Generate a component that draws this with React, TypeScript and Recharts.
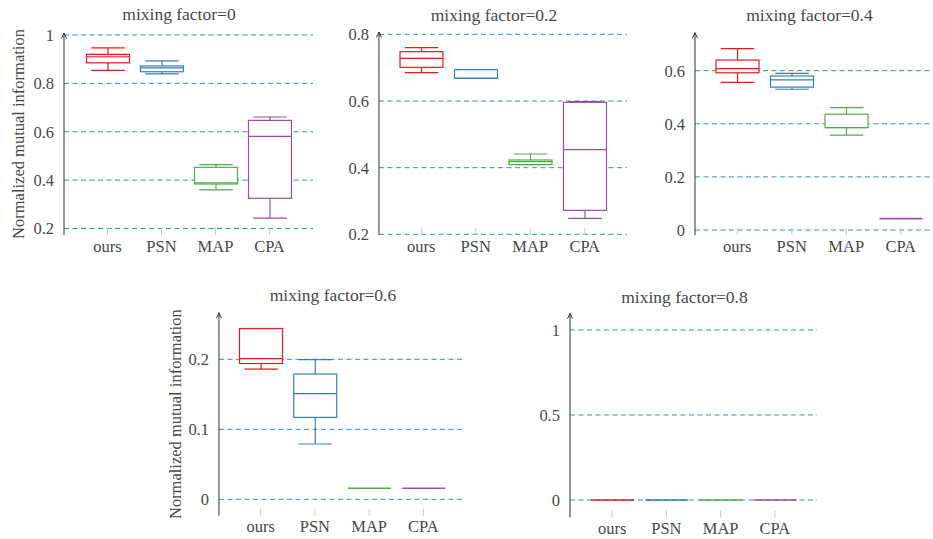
import React from 'react';
import { ComposedChart, Bar, XAxis, YAxis, CartesianGrid } from 'recharts';

const FONT = '"Liberation Serif", "DejaVu Serif", serif';
const TEXT = '#484848';
const GRID = '#2b9a9a';

const methods = ['ours', 'PSN', 'MAP', 'CPA'];
const methodColors = ['#e41a1c', '#377eb8', '#4daf4a', '#984ea3'];

// five-number summaries per method: [min, q1, median, q3, max]
const stats00 = [
  [0.854, 0.885, 0.91, 0.92, 0.947],
  [0.839, 0.848, 0.864, 0.872, 0.893],
  [0.36, 0.384, 0.389, 0.453, 0.464],
  [0.243, 0.325, 0.581, 0.647, 0.661],
];
const stats02 = [
  [0.685, 0.701, 0.728, 0.748, 0.76],
  [0.668, 0.668, 0.668, 0.694, 0.694],
  [0.409, 0.409, 0.418, 0.423, 0.441],
  [0.248, 0.272, 0.454, 0.596, 0.598],
];
const stats04 = [
  [0.556, 0.592, 0.608, 0.64, 0.683],
  [0.53, 0.538, 0.565, 0.58, 0.59],
  [0.357, 0.385, 0.386, 0.436, 0.461],
  [0.043, 0.043, 0.043, 0.043, 0.043],
];
const stats06 = [
  [0.186, 0.194, 0.201, 0.244, 0.244],
  [0.079, 0.117, 0.151, 0.179, 0.1995],
  [0.0157, 0.0157, 0.0157, 0.0157, 0.0157],
  [0.0157, 0.0157, 0.0157, 0.0157, 0.0157],
];
const stats08 = [
  [0, 0, 0, 0, 0],
  [0, 0, 0, 0, 0],
  [0, 0, 0, 0, 0],
  [0, 0, 0, 0, 0],
];

const ticks00 = [0.2, 0.4, 0.6, 0.8, 1];
const ticks02 = [0.2, 0.4, 0.6, 0.8];
const ticks04 = [0, 0.2, 0.4, 0.6];
const ticks06 = [0, 0.1, 0.2];
const ticks08 = [0, 0.5, 1];

const Y_LABEL = 'Normalized mutual information';

const buildRows = (stats: number[][]) =>
  methods.map((name, i) => ({
    name,
    range: [stats[i][0], stats[i][4]],
    stats: stats[i],
    color: methodColors[i],
  }));

const BoxShape = (props: any) => {
  const { x, y, width, height, payload } = props;
  const [lo, q1, med, q3, hi] = payload.stats;
  const color = payload.color;
  const span = hi - lo;
  if (span === 0 || !height) {
    return <line x1={x} x2={x + width} y1={y} y2={y} stroke={color} strokeWidth={1.6} />;
  }
  const py = (v: number) => y + (height * (hi - v)) / span;
  const cx = x + width / 2;
  const cap = width * 0.39;
  return (
    <g>
      <line x1={cx} x2={cx} y1={py(hi)} y2={py(q3)} stroke={color} strokeWidth={1.2} />
      <line x1={cx} x2={cx} y1={py(q1)} y2={py(lo)} stroke={color} strokeWidth={1.2} />
      <line x1={cx - cap} x2={cx + cap} y1={py(hi)} y2={py(hi)} stroke={color} strokeWidth={1.2} />
      <line x1={cx - cap} x2={cx + cap} y1={py(lo)} y2={py(lo)} stroke={color} strokeWidth={1.2} />
      <rect x={x} y={py(q3)} width={width} height={Math.max(py(q1) - py(q3), 0.5)} fill="#fff" stroke={color} strokeWidth={1.2} />
      <line x1={x} x2={x + width} y1={py(med)} y2={py(med)} stroke={color} strokeWidth={1.2} />
    </g>
  );
};

const CatTick = (props: any) => {
  const { x, y, payload } = props;
  return (
    <g>
      <line x1={x} x2={x} y1={y - 12} y2={y - 5} stroke="#c8c8c8" />
      <text x={x} y={y} dy="0.71em" textAnchor="middle" fontSize={16.5} fill={TEXT} fontFamily={FONT}>
        {payload.value}
      </text>
    </g>
  );
};

type PanelProps = {
  title: string;
  stats: number[][];
  ticks: number[];
  domain: [number, number];
  left: number;
  top: number;
  axisW: number;
  plotTop: number;
  plotH: number;
  plotW: number;
  pad: number;
  titleX: number;
  titleY: number;
  yLabelX?: number;
};

const Panel = (p: PanelProps) => {
  const rows = buildRows(p.stats);
  // grid only at the tick values (no lines at the domain edges)
  const gridAt = ({ yAxis, offset }: any) => {
    const sc = yAxis && yAxis.scale;
    if (typeof sc === 'function') return p.ticks.map((t) => sc(t));
    if (sc && typeof sc.map === 'function') return p.ticks.map((t) => sc.map(t));
    const [d0, d1] = p.domain;
    return p.ticks.map((t) => offset.top + (offset.height * (d1 - t)) / (d1 - d0));
  };
  return (
    <>
      <div
        style={{
          position: 'absolute',
          left: p.titleX - 120,
          top: p.titleY - 10,
          width: 240,
          textAlign: 'center',
          fontSize: 17.5,
          lineHeight: '20px',
          color: TEXT,
          fontFamily: FONT,
        }}
      >
        {p.title}
      </div>
      <div style={{ position: 'absolute', left: p.left, top: p.top }}>
        <ComposedChart
          width={p.axisW + p.plotW}
          height={p.plotTop + p.plotH + 30}
          data={rows}
          margin={{ top: p.plotTop, right: 0, bottom: 0, left: 0 }}
        >
          <CartesianGrid
            horizontal
            vertical={false}
            stroke={GRID}
            strokeDasharray="5 3.5"
            horizontalCoordinatesGenerator={gridAt}
          />
          <XAxis
            dataKey="name"
            height={30}
            padding={{ left: p.pad, right: p.pad }}
            axisLine={false}
            tickLine={false}
            tickSize={0}
            tickMargin={5}
            interval={0}
            tick={<CatTick />}
          />
          <YAxis
            width={p.axisW}
            domain={p.domain}
            ticks={p.ticks}
            allowDataOverflow
            type="number"
            tickLine={false}
            tickSize={0}
            tickMargin={10}
            axisLine={{ stroke: '#333', strokeWidth: 1, markerStart: 'url(#axArrow)' }}
            tick={{ fontSize: 16.5, fill: TEXT, fontFamily: FONT }}
            label={
              p.yLabelX !== undefined
                ? {
                    value: Y_LABEL,
                    angle: -90,
                    position: 'insideLeft',
                    offset: p.yLabelX,
                    fill: TEXT,
                    fontSize: 16.5,
                    fontFamily: FONT,
                    style: { textAnchor: 'middle' },
                  }
                : undefined
            }
          />
          <Bar dataKey="range" barSize={43} isAnimationActive={false} shape={BoxShape} />
        </ComposedChart>
      </div>
    </>
  );
};

export default function App() {
  return (
    <div
      style={{
        position: 'absolute',
        left: 0,
        top: 0,
        width: 933,
        height: 539,
        overflow: 'hidden',
        background: '#fff',
        fontFamily: FONT,
      }}
    >
      <svg width={0} height={0} style={{ position: 'absolute' }}>
        <defs>
          <marker
            id="axArrow"
            markerWidth={8}
            markerHeight={8}
            refX={6}
            refY={4}
            orient="auto-start-reverse"
            markerUnits="userSpaceOnUse"
          >
            <path d="M0.5,1.5 L6,4 L0.5,6.5" fill="none" stroke="#333" strokeWidth={1} />
          </marker>
        </defs>
      </svg>
      <Panel
        title="mixing factor=0"
        stats={stats00}
        ticks={ticks00}
        domain={[0.1731, 1.0083]}
        left={0}
        top={0}
        axisW={64}
        plotTop={33}
        plotH={202}
        plotW={249}
        pad={16.5}
        titleX={179}
        titleY={14}
        yLabelX={18}
      />
      <Panel
        title="mixing factor=0.2"
        stats={stats02}
        ticks={ticks02}
        domain={[0.198, 0.807]}
        left={319.3}
        top={0}
        axisW={60}
        plotTop={32}
        plotH={203}
        plotW={248}
        pad={15}
        titleX={494}
        titleY={15}
      />
      <Panel
        title="mixing factor=0.4"
        stats={stats04}
        ticks={ticks04}
        domain={[-0.0188, 0.743]}
        left={635}
        top={0}
        axisW={60}
        plotTop={32.7}
        plotH={202.3}
        plotW={248}
        pad={15}
        titleX={809.5}
        titleY={15}
      />
      <Panel
        title="mixing factor=0.6"
        stats={stats06}
        ticks={ticks06}
        domain={[-0.0234, 0.2666]}
        left={150}
        top={270}
        axisW={69}
        plotTop={42.7}
        plotH={203}
        plotW={246}
        pad={14.5}
        titleX={333}
        titleY={295}
        yLabelX={25}
      />
      <Panel
        title="mixing factor=0.8"
        stats={stats08}
        ticks={ticks08}
        domain={[-0.102, 1.098]}
        left={510}
        top={270}
        axisW={60}
        plotTop={43.3}
        plotH={204}
        plotW={247}
        pad={15}
        titleX={684.5}
        titleY={297}
      />
    </div>
  );
}
